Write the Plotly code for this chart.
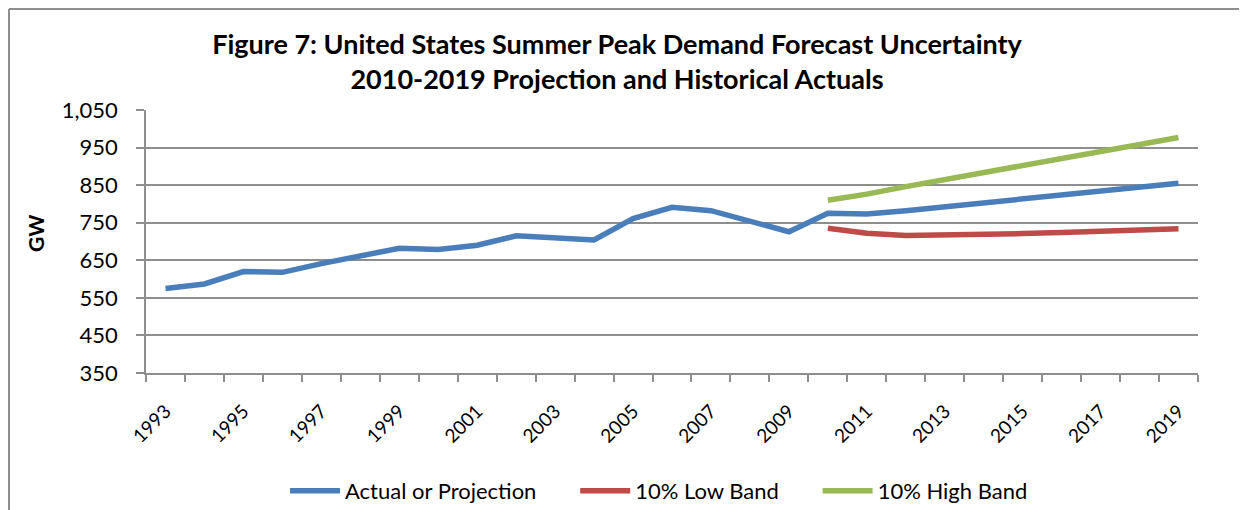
import plotly.graph_objects as go

# Данные (GW)
hist_years = list(range(1993, 2010))
actual_hist = [575, 587, 620, 618, 641, 661, 682, 679, 690, 715, 709, 704, 761, 791, 782, 755, 726]

proj_years = list(range(2010, 2020))
actual_proj = [775, 773, 782, 792, 803, 813, 824, 834, 845, 855]
low_band = [735, 722, 716, 717, 719, 721, 724, 727, 731, 734]
high_band = [810, 826, 846, 865, 884, 902, 921, 940, 958, 977]

y_ticks = [350, 450, 550, 650, 750, 850, 950, 1050]
x_label_years = list(range(1993, 2020, 2))

c_blue = '#4A7EBB'
c_red = '#BE4B48'
c_green = '#98B954'
c_grid = '#8E8E8E'
FONT = 'Lato'
NB = '\u00a0'

# страница сдвигает фигуру на 8 px (отступ body), поэтому размер меньше на 8
W, H = 1239, 502
L, R, T, B = 138, 49, 102, 137
pw, ph = W - L - R, H - T - B


def px_x(x):
    return (x - L) / pw


def px_y(y):
    return (H - B - y) / ph


fig = go.Figure()

fig.add_trace(go.Scatter(x=hist_years + proj_years, y=actual_hist + actual_proj,
                         mode='lines', name='Actual or Projection' + NB * 6,
                         line=dict(color=c_blue, width=5.5)))
fig.add_trace(go.Scatter(x=proj_years, y=low_band, mode='lines', name='10% Low Band' + NB * 6,
                         line=dict(color=c_red, width=5.5)))
fig.add_trace(go.Scatter(x=proj_years, y=high_band, mode='lines', name='10% High Band',
                         line=dict(color=c_green, width=5.5)))

# рамка области диаграммы (видны только верх и левый край)
fig.add_shape(type='line', xref='paper', yref='paper', x0=px_x(1), x1=px_x(1300),
              y0=px_y(1), y1=px_y(1), line=dict(color=c_grid, width=2))
fig.add_shape(type='line', xref='paper', yref='paper', x0=px_x(1), x1=px_x(1),
              y0=px_y(1), y1=px_y(560), line=dict(color=c_grid, width=2))

fig.add_annotation(text='<b>GW</b>', xref='paper', yref='paper', x=px_x(27), y=px_y(226),
                   xanchor='center', yanchor='middle',
                   textangle=-90, showarrow=False, font=dict(family=FONT, size=21, color='black'))

fig.update_layout(
    width=W, height=H,
    margin=dict(l=L, r=R, t=T, b=B, autoexpand=False),
    paper_bgcolor='white', plot_bgcolor='white',
    font=dict(family=FONT, color='black'),
    title=dict(text='<b>Figure 7: United States Summer Peak Demand Forecast Uncertainty<br>'
                    '2010-2019 Projection and Historical Actuals</b>',
               x=609 / W, xanchor='center', xref='container',
               y=1 - 46 / H, yanchor='top', yref='container',
               font=dict(family=FONT, size=27, color='black')),
    xaxis=dict(range=[1992.5, 2019.5], tickmode='array', tickvals=x_label_years,
               ticktext=[str(y) for y in x_label_years], tickangle=-45,
               tickfont=dict(family=FONT, size=19, color='black'),
               ticks='', ticklabelstandoff=18, automargin=False,
               showgrid=False, zeroline=False,
               showline=True, linecolor=c_grid, linewidth=1.5,
               minor=dict(ticks='outside', tick0=1992.5, dtick=1, ticklen=7,
                          tickcolor=c_grid, tickwidth=1.5, showgrid=False)),
    yaxis=dict(range=[350, 1050], tickmode='array', tickvals=y_ticks,
               ticktext=[f'{v:,}' for v in y_ticks],
               tickfont=dict(family=FONT, size=22, color='black'),
               ticks='outside', ticklen=8, tickcolor=c_grid, tickwidth=1.5,
               ticklabelstandoff=14, automargin=False,
               showgrid=True, gridcolor=c_grid, gridwidth=1.5, zeroline=False,
               showline=True, linecolor=c_grid, linewidth=1.5),
    legend=dict(orientation='h', x=px_x(277), xanchor='left', y=px_y(483), yanchor='middle',
                font=dict(family=FONT, size=22, color='black'), itemwidth=50,
                bgcolor='rgba(0,0,0,0)'),
    showlegend=True,
)

fig.write_html('out.html')
